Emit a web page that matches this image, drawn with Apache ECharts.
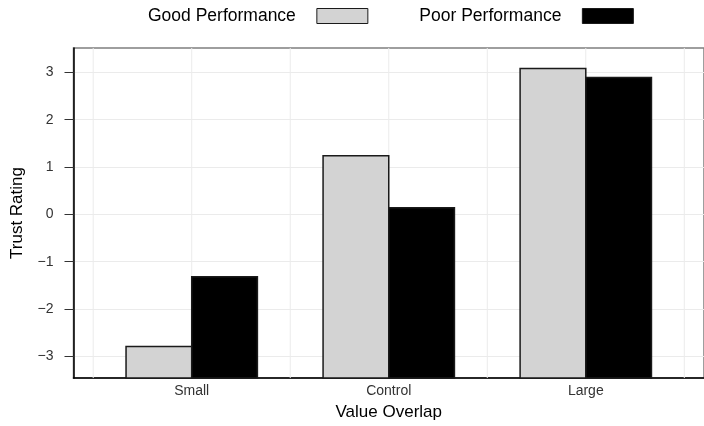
<!DOCTYPE html>
<html><head><meta charset="utf-8">
<script src="https://cdn.jsdelivr.net/npm/echarts@6/dist/echarts.min.js"></script>
<style>html,body{margin:0;padding:0;background:#fff}#c{width:704px;height:426px}</style>
</head><body><div id="c"></div>
<script>
const categories = ['Small', 'Control', 'Large'];
const seriesNames = ['Good Performance', 'Poor Performance'];
const goodValues = [-2.79, 1.24, 3.08];
const poorValues = [-1.32, 0.14, 2.89];
const yTicks = [-3, -2, -1, 0, 1, 2, 3];
const xGridValues = [0.5, 1, 1.5, 2, 2.5, 3, 3.5];
const Y_MIN = -3.456, Y_MAX = 3.513, X_MIN = 0.4, X_MAX = 3.6;
const FONT = '"Liberation Sans", Arial, Helvetica, sans-serif';
const GOOD_COLOR = '#d3d3d3', POOR_COLOR = '#000000', EDGE = '#1a1a1a';

function barRender(side, fill) {
  return function (params, api) {
    const x = api.value(0), v = api.value(1);
    const unit = api.size([1, 0])[0];
    const w = unit / 3;
    const top = api.coord([x, v]);
    const base = api.coord([x, Y_MIN]);
    const x0 = side < 0 ? top[0] - w : top[0];
    return {
      type: 'rect',
      shape: { x: x0, y: top[1], width: w, height: base[1] - top[1] },
      style: { fill: fill, stroke: EDGE, lineWidth: 1.5 }
    };
  };
}

const chart = echarts.init(document.getElementById('c'), null, { renderer: 'canvas' });
chart.setOption({
  animation: false,
  backgroundColor: '#ffffff',
  textStyle: { fontFamily: FONT },
  legend: {
    top: 7, left: 148, padding: 0,
    itemWidth: 51, itemHeight: 15, itemGap: 51,
    align: 'right', icon: 'rect',
    textStyle: { fontSize: 17.5, color: '#000', fontFamily: FONT, padding: [0, 16, 0, 0] },
    data: [
      { name: seriesNames[0], itemStyle: { color: GOOD_COLOR, borderColor: EDGE, borderWidth: 1 } },
      { name: seriesNames[1], itemStyle: { color: POOR_COLOR, borderColor: EDGE, borderWidth: 1 } }
    ]
  },
  grid: {
    left: 73.5, top: 48, width: 631, height: 330,
    show: true, borderColor: '#7f7f7f', borderWidth: 1.5, backgroundColor: 'transparent'
  },
  xAxis: {
    type: 'value', min: X_MIN, max: X_MAX,
    name: 'Value Overlap', nameLocation: 'middle', nameGap: 26,
    nameTextStyle: { fontSize: 17, color: '#000', fontFamily: FONT },
    axisLine: { show: true, onZero: false, lineStyle: { color: '#000', width: 1.5 } },
    axisTick: { show: false },
    splitLine: { show: false },
    axisLabel: {
      customValues: [1, 2, 3], margin: 6, fontSize: 14, color: '#333', fontFamily: FONT,
      formatter: v => categories[Math.round(v) - 1]
    }
  },
  yAxis: {
    type: 'value', min: Y_MIN, max: Y_MAX,
    name: 'Trust Rating', nameLocation: 'middle', nameGap: 48,
    nameTextStyle: { fontSize: 17, color: '#000', fontFamily: FONT },
    axisLine: { show: true, onZero: false, lineStyle: { color: '#000', width: 1.5 } },
    axisTick: { show: true, customValues: yTicks, length: 9, lineStyle: { color: '#333', width: 1 } },
    axisLabel: {
      customValues: yTicks, margin: 20, fontSize: 14, color: '#333', fontFamily: FONT,
      formatter: v => String(v).replace('-', '\u2212')
    },
    splitLine: { show: true, lineStyle: { color: '#ebebeb', width: 1 } }
  },
  series: [
    {
      type: 'custom', name: 'vgrid', z: 1, silent: true,
      data: xGridValues.map(v => [v]),
      encode: { x: 0 },
      renderItem: function (params, api) {
        const x = api.value(0);
        const p0 = api.coord([x, Y_MIN]);
        const p1 = api.coord([x, Y_MAX]);
        return { type: 'line', shape: { x1: p0[0], y1: p0[1], x2: p1[0], y2: p1[1] },
          style: { stroke: '#ebebeb', lineWidth: 1 } };
      }
    },
    {
      type: 'custom', name: seriesNames[0], z: 3,
      itemStyle: { color: GOOD_COLOR, borderColor: EDGE, borderWidth: 1 },
      data: categories.map((c, i) => [i + 1, goodValues[i]]),
      encode: { x: 0, y: 1 },
      renderItem: barRender(-1, GOOD_COLOR)
    },
    {
      type: 'custom', name: seriesNames[1], z: 3,
      itemStyle: { color: POOR_COLOR, borderColor: EDGE, borderWidth: 1 },
      data: categories.map((c, i) => [i + 1, poorValues[i]]),
      encode: { x: 0, y: 1 },
      renderItem: barRender(1, POOR_COLOR)
    }
  ]
});
</script></body></html>
